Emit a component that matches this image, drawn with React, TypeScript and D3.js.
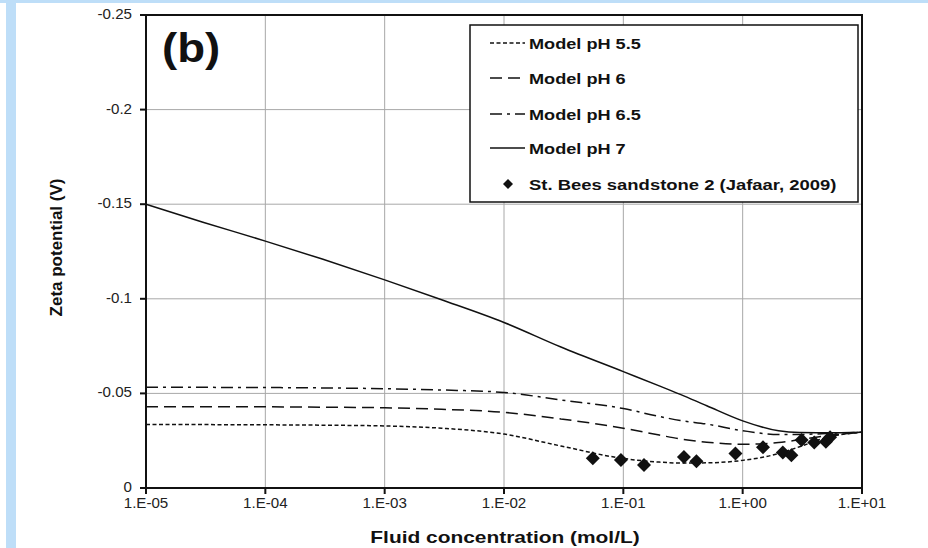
import React from "react";
import * as d3 from "d3";

// Model curves: zeta potential (V) versus NaCl concentration (mol/L)
const concentrations = [1e-5, 3e-5, 1e-4, 3e-4, 1e-3, 3e-3, 1e-2, 3e-2, 0.1, 0.2, 0.3, 0.5, 1, 2, 3, 5, 10];
const zetaPH55 = [-0.0335, -0.0335, -0.0334, -0.0332, -0.0328, -0.0316, -0.0285, -0.0222, -0.0156, -0.0137, -0.0132, -0.0133, -0.0146, -0.0182, -0.0218, -0.0266, -0.0295];
const zetaPH6 = [-0.043, -0.043, -0.0429, -0.0427, -0.0424, -0.0416, -0.04, -0.0365, -0.0316, -0.028, -0.0259, -0.0242, -0.0231, -0.024, -0.0255, -0.0276, -0.0295];
const zetaPH65 = [-0.0533, -0.0532, -0.0531, -0.0529, -0.0525, -0.0518, -0.0505, -0.0465, -0.042, -0.0378, -0.0357, -0.0338, -0.0303, -0.0283, -0.0283, -0.0288, -0.0295];
const zetaPH7 = [-0.15, -0.1405, -0.1305, -0.121, -0.11, -0.0995, -0.0875, -0.0745, -0.0615, -0.054, -0.0495, -0.0435, -0.0355, -0.0302, -0.0293, -0.0292, -0.0295];

// Measured samples: St. Bees sandstone 2 (Jafaar, 2009)
const sampleConc = [0.0555, 0.0955, 0.149, 0.322, 0.41, 0.87, 1.48, 2.17, 2.56, 3.12, 3.98, 4.98, 5.4];
const sampleZeta = [-0.0157, -0.0148, -0.0122, -0.0164, -0.0141, -0.0183, -0.0215, -0.0187, -0.0173, -0.0254, -0.024, -0.0245, -0.0268];

const xTickValues = [1e-5, 1e-4, 1e-3, 1e-2, 1e-1, 1, 10];
const xTickLabels = ["1.E-05", "1.E-04", "1.E-03", "1.E-02", "1.E-01", "1.E+00", "1.E+01"];
const yTickValues = [0, -0.05, -0.1, -0.15, -0.2, -0.25];
const yTickLabels = ["0", "-0.05", "-0.1", "-0.15", "-0.2", "-0.25"];

const seriesNames = ["Model pH 5.5", "Model pH 6", "Model pH 6.5", "Model pH 7"];
const seriesValues = [zetaPH55, zetaPH6, zetaPH65, zetaPH7];
const seriesDash = ["4,2.5", "12,6", "12,5,3,5", "none"];
const sampleName = "St. Bees sandstone 2 (Jafaar, 2009)";

const W = 928;
const H = 548;
const plot = { left: 146, right: 862, top: 15, bottom: 488 };
const FONT = "'Liberation Sans', Arial, Helvetica, sans-serif";
const INK = "#111";

const x = d3.scaleLog().domain([1e-5, 10]).range([plot.left, plot.right]);
const y = d3.scaleLinear().domain([0, -0.25]).range([plot.bottom, plot.top]);

const line = d3
  .line<[number, number]>()
  .x((d) => x(d[0]))
  .y((d) => y(d[1]))
  .curve(d3.curveMonotoneX);

const diamond = (cx: number, cy: number, r: number) =>
  `M${cx},${cy - r}L${cx + r},${cy}L${cx},${cy + r}L${cx - r},${cy}Z`;

function Wide({ x: tx, y: ty, sx, children, ...rest }: any) {
  return (
    <g transform={`translate(${tx},${ty}) scale(${sx},1)`}>
      <text x={0} y={0} {...rest}>
        {children}
      </text>
    </g>
  );
}

export default function App() {
  const legendRows = [43, 78, 114, 148, 184];
  return (
    <div style={{ position: "absolute", left: 0, top: 0 }}>
      <svg width={W} height={H} style={{ display: "block", background: "#fff" }}>
        {/* page frame */}
        <rect x={0} y={0} width={W} height={3} fill="#bedef8" />
        <rect x={6} y={0} width={10} height={H} fill="#bedef8" />

        {/* grid */}
        {xTickValues.map((v) => (
          <line key={"gx" + v} x1={x(v)} x2={x(v)} y1={plot.top} y2={plot.bottom} stroke="#a8a8a8" strokeWidth={1} />
        ))}
        {yTickValues.map((v) => (
          <line key={"gy" + v} x1={plot.left} x2={plot.right} y1={y(v)} y2={y(v)} stroke="#a8a8a8" strokeWidth={1} />
        ))}

        {/* model curves */}
        {seriesValues.map((vals, i) => (
          <path
            key={seriesNames[i]}
            d={line(concentrations.map((c, j) => [c, vals[j]] as [number, number])) || ""}
            fill="none"
            stroke={INK}
            strokeWidth={1.5}
            strokeDasharray={seriesDash[i]}
          />
        ))}

        {/* samples */}
        {sampleConc.map((c, i) => (
          <path key={"s" + i} d={diamond(x(c), y(sampleZeta[i]), 7)} fill={INK} />
        ))}

        {/* plot frame */}
        <rect
          x={plot.left}
          y={plot.top}
          width={plot.right - plot.left}
          height={plot.bottom - plot.top}
          fill="none"
          stroke={INK}
          strokeWidth={2}
        />

        {/* x axis ticks */}
        {xTickValues.map((v, i) => (
          <g key={"xt" + v}>
            <line x1={x(v)} x2={x(v)} y1={plot.bottom} y2={plot.bottom + 6} stroke={INK} strokeWidth={2} />
            <Wide x={x(v)} y={508} sx={1.08} textAnchor="middle" fontFamily={FONT} fontSize={14} fill="#222">
              {xTickLabels[i]}
            </Wide>
          </g>
        ))}

        {/* y axis ticks */}
        {yTickValues.map((v, i) => (
          <g key={"yt" + v}>
            <line x1={plot.left - 6} x2={plot.left} y1={y(v)} y2={y(v)} stroke={INK} strokeWidth={2} />
            <Wide x={132} y={y(v) + 4} sx={1.08} textAnchor="end" fontFamily={FONT} fontSize={14} fill="#222">
              {yTickLabels[i]}
            </Wide>
          </g>
        ))}

        {/* axis titles */}
        <Wide x={505} y={543} sx={1.23} textAnchor="middle" fontFamily={FONT} fontSize={17} fontWeight="bold" fill={INK}>
          Fluid concentration (mol/L)
        </Wide>
        <text
          transform={`translate(62,${(plot.top + plot.bottom) / 2 - 4}) rotate(-90)`}
          textAnchor="middle"
          fontFamily={FONT}
          fontSize={17}
          fontWeight="bold"
          fill={INK}
        >
          Zeta potential (V)
        </text>

        {/* panel tag */}
        <Wide x={162} y={62} sx={1.14} fontFamily={FONT} fontSize={40} fontWeight="bold" fill={INK}>
          (b)
        </Wide>

        {/* legend */}
        <rect x={470} y={25} width={388} height={177} fill="#fff" stroke={INK} strokeWidth={1.5} />
        {seriesNames.map((name, i) => (
          <g key={"lg" + name}>
            <line
              x1={490}
              x2={525}
              y1={legendRows[i]}
              y2={legendRows[i]}
              stroke={INK}
              strokeWidth={1.5}
              strokeDasharray={seriesDash[i]}
            />
            <Wide x={529} y={legendRows[i] + 5.5} sx={1.21} fontFamily={FONT} fontSize={15} fontWeight="bold" fill={INK}>
              {name}
            </Wide>
          </g>
        ))}
        <path d={diamond(508, legendRows[4], 5)} fill={INK} />
        <Wide x={529} y={legendRows[4] + 5.5} sx={1.23} fontFamily={FONT} fontSize={15} fontWeight="bold" fill={INK}>
          {sampleName}
        </Wide>
      </svg>
    </div>
  );
}
